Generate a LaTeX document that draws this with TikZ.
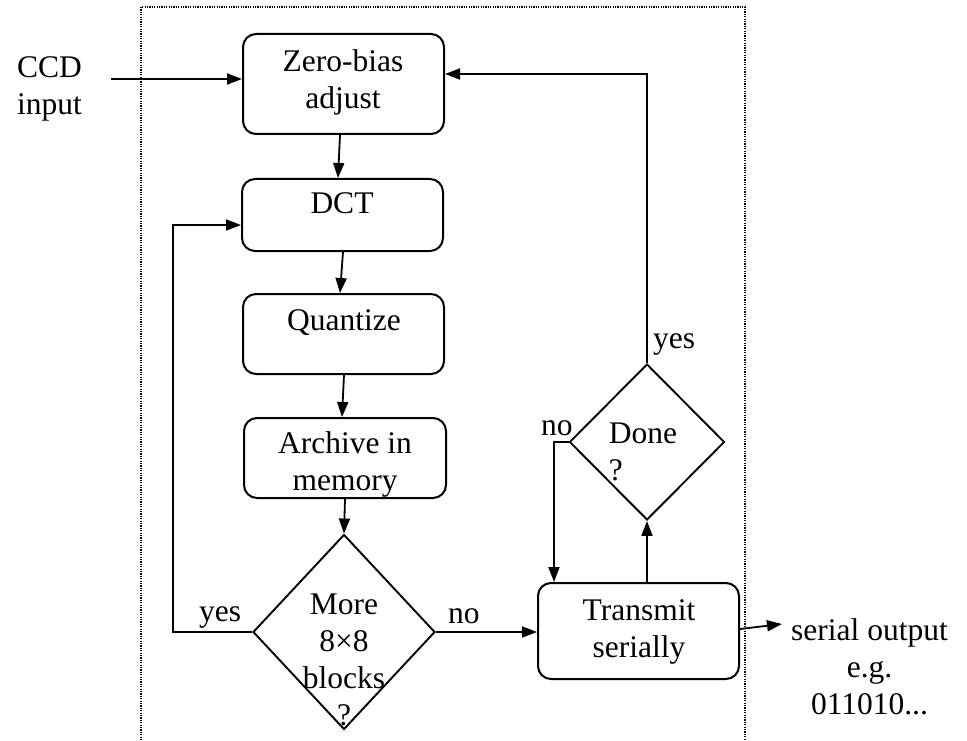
\documentclass[tikz,border=0pt]{standalone}
\usepackage{fontspec}
\setmainfont{Liberation Serif}
\usetikzlibrary{arrows.meta,shapes.geometric}

\begin{document}
\begin{tikzpicture}[x=1pt,y=-1pt,
  every node/.style={font=\fontsize{31.5}{37}\selectfont, inner sep=0pt},
  stepbox/.style={draw, rounded corners=13pt, line width=2pt, minimum width=201pt},
  decision/.style={draw, diamond, line width=1.9pt},
  flow/.style={line width=1.8pt, -{Triangle[length=15pt,width=11pt]}},
  frame/.style={line width=1.2pt, dash pattern=on 1.2pt off 1.2pt},
  txt/.style={align=center},
]
\useasboundingbox (0,0) rectangle (967,741);

% dotted boundary of the processing unit (open at the bottom)
\draw[frame] (141,745) -- (141,7) -- (745,7) -- (745,745);

% processing steps
\node[stepbox, minimum height=100pt] (zb) at (343.5,84) {};
\node[txt] (zbt) at (343,82) {Zero-bias\\adjust};
\node[stepbox, minimum height=72pt] (dct) at (342.5,215) {};
\node[anchor=base] (dctt) at (342,213) {DCT};
\node[stepbox, minimum height=80pt] (quant) at (343.5,334) {};
\node[anchor=base] (quantt) at (344,330) {Quantize};
\node[stepbox, minimum width=202pt, minimum height=80pt] (arch) at (345,458) {};
\node[txt] (archt) at (345,464) {Archive in\\memory};
\node[stepbox, minimum height=96pt] (trans) at (638.5,631) {};
\node[txt] (transt) at (639,631.5) {Transmit\\serially};

% decisions
\node[decision, minimum width=182pt, minimum height=195pt] (more) at (344,632) {};
\node[txt] (moret) at (344,660) {More\\8×8\\blocks\\?};
\node[decision, minimum width=155pt, minimum height=156pt] (done) at (647,442) {};
\node[align=left] (donet) at (643,451.5) {Done\\?};

% outside texts and branch labels
\node[align=left] (ccd) at (49.4,88.5) {CCD\\input};
\node[txt] (serial) at (869.5,667) {serial output\\e.g.\\011010...};
\node[anchor=base west] (yesL) at (199,621) {yes};
\node[anchor=base west] (noR) at (448,623) {no};
\node[anchor=base west] (yesD) at (653,348) {yes};
\node[anchor=base west] (noD) at (541,435) {no};

% helper points
\coordinate (ccdin) at (111,79);
\coordinate (loopc) at (173,632);
\coordinate (noc) at (554,442);
\coordinate (outc) at (782,624);

% connectors
\draw[flow] (ccdin) -- (ccdin -| zb.west);
\draw[flow] ([xshift=-3.5pt]zb.south) -- ([xshift=-4.5pt]dct.north);
\draw[flow] ([xshift=0.5pt]dct.south) -- ([xshift=-3.5pt]quant.north);
\draw[flow] ([xshift=0.5pt]quant.south) -- ([xshift=-3pt]arch.north);
\draw[flow] (arch.south) -- (more.north);
\draw[flow] (more.west) -- (loopc) |- ([yshift=-10pt]dct.west);
\draw[flow] (more.east) -- (more.east -| trans.west);
\draw[flow] (trans.north -| done.south) -- (done.south);
\draw[flow] (done.north) |- ([yshift=10pt]zb.east);
\draw[flow] (done.west) -- (noc) -- (noc |- trans.north);
\draw[flow] ([yshift=2pt]trans.east) -- (outc);
\end{tikzpicture}
\end{document}
